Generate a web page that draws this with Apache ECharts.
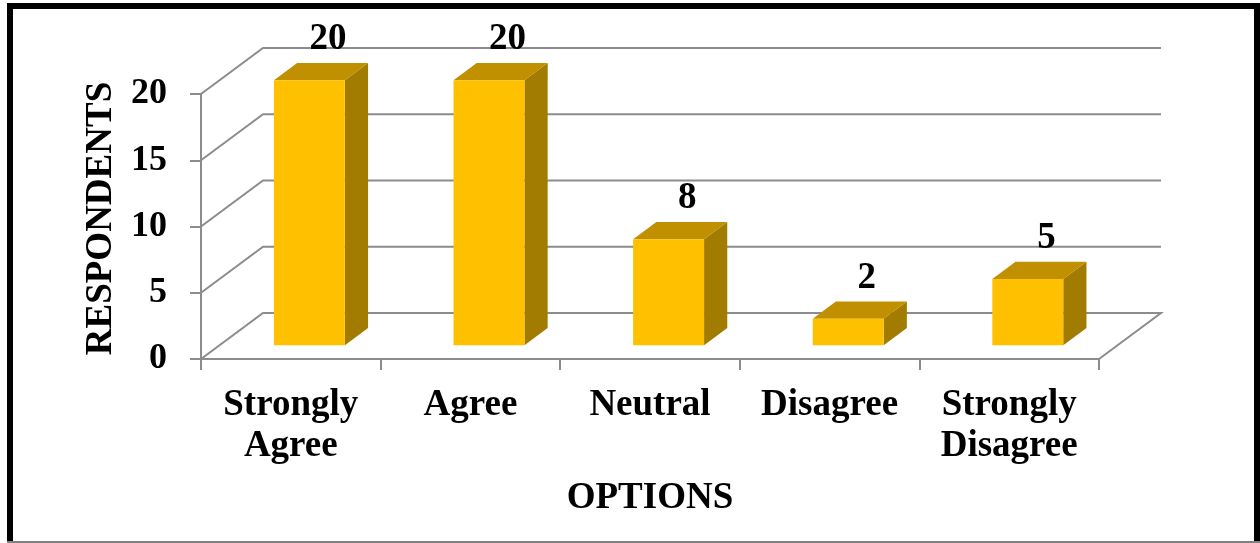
<!DOCTYPE html>
<html>
<head>
<meta charset="utf-8">
<title>Respondents by option</title>
<script src="https://cdn.jsdelivr.net/npm/echarts@6/dist/echarts.min.js"></script>
<style>
  html, body { margin: 0; padding: 0; background: #ffffff; }
  #chart { width: 1260px; height: 543px; }
</style>
</head>
<body>
<div id="chart"></div>
<script>
// Survey answers and the number of respondents choosing each one
const categories = ['Strongly\nAgree', 'Agree', 'Neutral', 'Disagree', 'Strongly\nDisagree'];
const respondents = [20, 20, 8, 2, 5];
// Value axis ticks (also used for the wall gridlines)
const yTicks = [0, 5, 10, 15, 20];

const FONT = "'Liberation Serif', 'Times New Roman', serif";
const GRID_COLOR = '#8c8c8c';

// Pseudo-3D depth of the plot box (pixels, back wall relative to front plane)
const DEPTH_X = 62;
const DEPTH_Y = -46;
// Bars occupy this slice of the depth
const BAR_FRONT = 0.30;
const BAR_BACK = 0.674;
const BAR_FRAC = 0.395;

const FACE_FRONT = '#FFC000';
const FACE_TOP = '#C09000';
const FACE_SIDE = '#A27C00';

const chart = echarts.init(document.getElementById('chart'), null, { renderer: 'canvas' });

function renderWall(params, api) {
  const cs = params.coordSys;
  const v = api.value(1);
  const y = api.coord([0, v])[1];
  const pts = [
    [cs.x, y],
    [cs.x + DEPTH_X, y + DEPTH_Y],
    [cs.x + cs.width + DEPTH_X, y + DEPTH_Y]
  ];
  if (v === yTicks[0]) {
    // floor: closing edge on the right side
    pts.push([cs.x + cs.width, y]);
  }
  return {
    type: 'polyline',
    shape: { points: pts },
    style: { stroke: GRID_COLOR, lineWidth: 2, fill: null }
  };
}

function renderBar(params, api) {
  const idx = api.value(0);
  const val = api.value(1);
  const base = api.coord([idx, 0]);
  const top = api.coord([idx, val]);
  const band = api.size([1, 0])[0];
  const w = band * BAR_FRAC;
  const fx = BAR_FRONT * DEPTH_X, fy = BAR_FRONT * DEPTH_Y;
  const sdx = (BAR_BACK - BAR_FRONT) * DEPTH_X;
  const sdy = (BAR_BACK - BAR_FRONT) * DEPTH_Y;
  const x0 = base[0] - w / 2 + fx;
  const x1 = x0 + w;
  const yb = base[1] + fy;
  const yt = top[1] + fy;
  return {
    type: 'group',
    children: [
      {
        type: 'polygon',
        shape: { points: [[x1, yt], [x1 + sdx, yt + sdy], [x1 + sdx, yb + sdy], [x1, yb]] },
        style: { fill: FACE_SIDE }
      },
      {
        type: 'polygon',
        shape: { points: [[x0, yt], [x1, yt], [x1 + sdx, yt + sdy], [x0 + sdx, yt + sdy]] },
        style: { fill: FACE_TOP }
      },
      {
        type: 'rect',
        shape: { x: x0, y: yt, width: w, height: yb - yt },
        style: { fill: FACE_FRONT }
      },
      {
        type: 'text',
        x: (x0 + x1) / 2 + sdx / 2 + 7,
        y: yt + sdy / 2 - 32,
        style: {
          text: String(val),
          font: 'bold 37px ' + FONT,
          fill: '#000',
          align: 'center',
          verticalAlign: 'middle'
        }
      }
    ]
  };
}

chart.setOption({
  animation: false,
  backgroundColor: '#ffffff',
  graphic: [
    {
      type: 'rect',
      shape: { x: 10, y: 6, width: 1247, height: 620 },
      style: { fill: null, stroke: '#000', lineWidth: 6 },
      z: 100
    },
    {
      type: 'line',
      shape: { x1: 7, y1: 542, x2: 1260, y2: 542 },
      style: { stroke: '#808080', lineWidth: 2 },
      z: 101
    }
  ],
  grid: { left: 201, right: 161, top: 94, bottom: 184 },
  xAxis: {
    type: 'category',
    data: categories,
    boundaryGap: true,
    name: 'OPTIONS',
    nameLocation: 'middle',
    nameGap: 121,
    nameTextStyle: { fontFamily: FONT, fontWeight: 'bold', fontSize: 37, color: '#000' },
    axisLine: { show: true, lineStyle: { color: GRID_COLOR, width: 2 } },
    axisTick: { show: true, length: 11, alignWithLabel: false, lineStyle: { color: GRID_COLOR, width: 2 } },
    axisLabel: {
      interval: 0,
      margin: 26,
      fontFamily: FONT,
      fontWeight: 'bold',
      fontSize: 37,
      lineHeight: 41,
      color: '#000'
    },
    splitLine: { show: false }
  },
  yAxis: {
    type: 'value',
    min: 0,
    max: 20,
    interval: 5,
    name: 'RESPONDENTS',
    nameLocation: 'middle',
    nameGap: 79,
    nameRotate: 90,
    nameTextStyle: {
      fontFamily: FONT, fontWeight: 'bold', fontSize: 37, color: '#000',
      padding: [0, 0, 0, 16]
    },
    axisLine: { show: true, lineStyle: { color: GRID_COLOR, width: 2 } },
    axisTick: { show: true, length: 11, lineStyle: { color: GRID_COLOR, width: 2 } },
    axisLabel: {
      margin: 34,
      fontFamily: FONT,
      fontWeight: 'bold',
      fontSize: 36,
      color: '#000'
    },
    splitLine: { show: false }
  },
  series: [
    {
      type: 'custom',
      name: 'wall',
      clip: false,
      silent: true,
      z: 1,
      renderItem: renderWall,
      encode: { x: 0, y: 1 },
      data: yTicks.map(v => [0, v])
    },
    {
      type: 'custom',
      name: 'Respondents',
      clip: false,
      z: 2,
      renderItem: renderBar,
      encode: { x: 0, y: 1 },
      data: respondents.map((v, i) => [i, v])
    }
  ]
});
</script>
</body>
</html>
